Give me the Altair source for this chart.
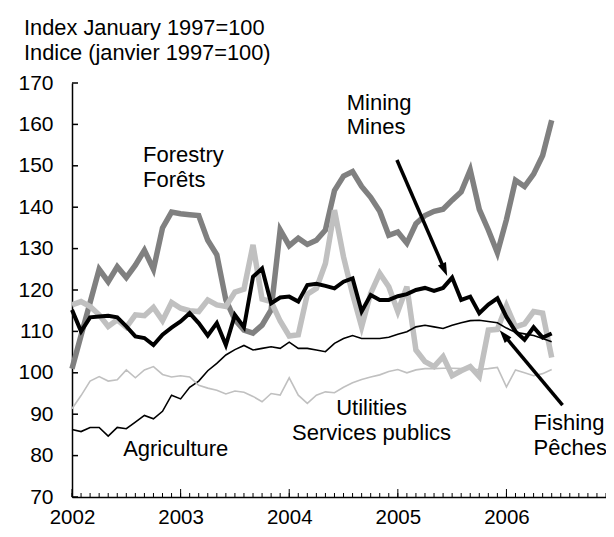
import altair as alt
import pandas as pd

# Monthly index, January 2002 (t=0) to June 2006 (t=53)
forestry = [101, 109, 117, 125, 122, 125.6, 123, 126, 129.6, 125,
            135, 138.8, 138.4, 138.2, 138, 132, 128.5, 117.6, 112.8, 110.3,
            109.6, 111.5, 115.2, 134.5, 130.7, 132.5, 131, 132, 134.5, 144,
            147.5, 148.6, 145, 142.4, 139, 133.2, 134, 131.3, 136, 138,
            139, 139.5, 141.7, 143.7, 149, 139.5, 134.5, 129, 137, 146.5,
            145, 148, 152.5, 161]
mining = [115.2, 110, 113.4, 113.6, 113.8, 113.4, 111.2, 108.8, 108.4, 106.7,
          109.2, 110.9, 112.4, 114.4, 112, 109, 112, 106.7, 114, 111,
          123.2, 125.2, 116.8, 118.2, 118.4, 117.2, 121.2, 121.5, 121, 120.4,
          122, 122.8, 114.8, 118.8, 117.6, 117.6, 118.5, 119, 120, 120.5,
          119.8, 120.5, 123, 117.6, 118.4, 114.4, 116.5, 118, 113.5, 110,
          108, 111, 108.5, 109.5]
fishing = [116.4, 117.2, 116, 114, 111.2, 112.8, 111, 114, 113.8, 115.8,
           112.6, 117, 115.6, 115, 114.8, 117.6, 116.4, 116, 119.5, 120.2,
           130.9, 117.8, 117.2, 112.5, 108.9, 109.2, 119, 120.4, 126.4, 139.3,
           128, 119, 111.1, 119.2, 124, 120.8, 114.8, 120.8, 105.5, 102.7,
           101.5, 103.9, 99.3, 100.5, 101.5, 99.1, 110.3, 110.5, 116.2, 111.1,
           111.8, 114.8, 114.4, 103.7]
agriculture = [86.3, 85.8, 86.8, 86.8, 84.7, 86.8, 86.5, 88.1, 89.7, 88.9,
               90.7, 94.6, 93.7, 96.5, 98, 100.5, 102.3, 104.3, 105.6, 106.6,
               105.5, 105.9, 106.3, 105.9, 107.4, 105.9, 105.9, 105.5, 105.1, 107.1,
               108.3, 109, 108.3, 108.3, 108.3, 108.6, 109.3, 109.9, 111.1, 111.5,
               111.1, 110.7, 111.5, 112.1, 112.6, 112.7, 112.4, 112.1, 110.8, 109.8,
               109.4, 109, 108.3, 107.5]
utilities = [91.3, 94.5, 98, 99.1, 98, 98.3, 100.7, 98.8, 100.7, 101.5,
             99.6, 99, 99.3, 99, 97, 96.3, 95.8, 94.9, 95.6, 95.3,
             94.3, 93, 95, 94.6, 98.8, 94.6, 92.6, 94.6, 95.4, 95.2,
             96.5, 97.6, 98.4, 99, 99.5, 100.3, 100.8, 100, 100.7, 101,
             101, 101.1, 101.1, 101, 100.8, 100.8, 101, 101.3, 96.6, 100.7,
             100, 99.3, 99.8, 100.8]

year_labels = [2002, 2003, 2004, 2005, 2006]
year_ticks = [0, 12, 24, 36, 48]
month_ticks = list(range(0, 60))
y_ticks = [70, 80, 90, 100, 110, 120, 130, 140, 150, 160, 170]

# annotation texts (t in months since Jan 2002, v in index units)
labels_left = ["Forestry", "Forêts", "Mining", "Mines", "Agriculture", "Fishing", "Pêches"]
labels_left_t = [7.85, 7.85, 30.35, 30.35, 5.65, 51.0, 51.0]
labels_left_v = [150.9, 144.9, 163.5, 157.7, 80.0, 86.2, 80.1]
labels_center = ["Utilities", "Services publics"]
labels_center_t = [33.1, 33.1]
labels_center_v = [89.8, 83.8]

# arrows: start -> tip
arrow_t1 = [35.9, 54.2]
arrow_v1 = [151.4, 92.2]
arrow_t2 = [41.1, 47.8]
arrow_v2 = [125.2, 108.9]
tip_t = [41.45, 47.25]
tip_v = [123.4, 110.3]
tip_angle = [156.7, 320]

FONT = "Liberation Sans"

series = [
    ("Forestry", forestry, "#808080", 5.5),
    ("Fishing", fishing, "#c0c0c0", 5.5),
    ("Mining", mining, "#000000", 4),
    ("Agriculture", agriculture, "#000000", 1.6),
    ("Utilities", utilities, "#c0c0c0", 1.6),
]

x_scale = alt.Scale(domain=[0, 59], nice=False, zero=False)
y_scale = alt.Scale(domain=[70, 170], nice=False, zero=False)

label_expr = "{" + ",".join(f"'{t}':'{y}'" for t, y in zip(year_ticks, year_labels)) + "}[datum.value]"

x_axis = alt.Axis(
    values=year_ticks, labelExpr=label_expr, ticks=False, tickSize=0,
    grid=False, domainColor="black", domainWidth=1.5, labelFontSize=20.5,
    labelFont=FONT, labelColor="black", labelPadding=10.5, title=None,
    labelFlush=False, labelOverlap=False)
y_axis = alt.Axis(
    values=y_ticks, ticks=False, tickSize=0, grid=False,
    domainColor="black", domainWidth=1.5, labelFontSize=21,
    labelFont=FONT, labelColor="black", labelPadding=19, title=None)


def X(field="t"):
    return alt.X(f"{field}:Q", scale=x_scale, axis=x_axis)


def Y(field="v"):
    return alt.Y(f"{field}:Q", scale=y_scale, axis=y_axis)


layers = []
for name, vals, color, w in series:
    d = pd.DataFrame({"t": list(range(len(vals))), "v": vals})
    layers.append(alt.Chart(d).mark_line(color=color, strokeWidth=w).encode(x=X(), y=Y()))

# axis ticks (pointing inward)
minor = pd.DataFrame({"t": month_ticks})
layers.append(alt.Chart(minor).mark_rule(color="black", strokeWidth=1).encode(
    x=X(), y=alt.value(414), y2=alt.value(410)))
major = pd.DataFrame({"t": year_ticks})
layers.append(alt.Chart(major).mark_rule(color="black", strokeWidth=1).encode(
    x=X(), y=alt.value(414), y2=alt.value(406)))
yt = pd.DataFrame({"v": y_ticks})
layers.append(alt.Chart(yt).mark_rule(color="black", strokeWidth=1.5).encode(
    y=Y(), x=alt.value(0), x2=alt.value(6)))

# annotations
la = pd.DataFrame({"text": labels_left, "t": labels_left_t, "v": labels_left_v})
layers.append(alt.Chart(la).mark_text(align="left", baseline="alphabetic", fontSize=22,
                                      font=FONT, color="black").encode(
    x=X(), y=Y(), text="text:N"))
lc = pd.DataFrame({"text": labels_center, "t": labels_center_t, "v": labels_center_v})
layers.append(alt.Chart(lc).mark_text(align="center", baseline="alphabetic", fontSize=22,
                                      font=FONT, color="black").encode(
    x=X(), y=Y(), text="text:N"))

# arrows
ar = pd.DataFrame({"t": arrow_t1, "v": arrow_v1, "t2": arrow_t2, "v2": arrow_v2})
layers.append(alt.Chart(ar).mark_rule(color="black", strokeWidth=3.5).encode(
    x=X(), y=Y(), x2="t2:Q", y2="v2:Q"))
tips = pd.DataFrame({"t": tip_t, "v": tip_v, "a": tip_angle})
layers.append(alt.Chart(tips).mark_point(
    shape="M0,0L-0.8,2.4L0.8,2.4Z", filled=True, color="black", opacity=1, size=120,
    strokeWidth=0).encode(
    x=X(), y=Y(), angle=alt.Angle("a:Q", scale=None)))

chart = alt.layer(*layers).properties(
    width=534, height=414,
    padding={"left": 64, "top": 75, "right": 0, "bottom": 32},
    autosize=alt.AutoSizeParams(type="none"),
    title=alt.TitleParams(
        text=["Index January 1997=100", "Indice (janvier 1997=100)"],
        anchor="start", frame="group", fontSize=21.8, font=FONT, fontWeight="normal",
        color="black", dx=-48, dy=10, offset=0, lineHeight=25, baseline="alphabetic"),
).configure_view(stroke=None)

chart.save("out.html", embed_options={"renderer": "svg", "actions": False})
